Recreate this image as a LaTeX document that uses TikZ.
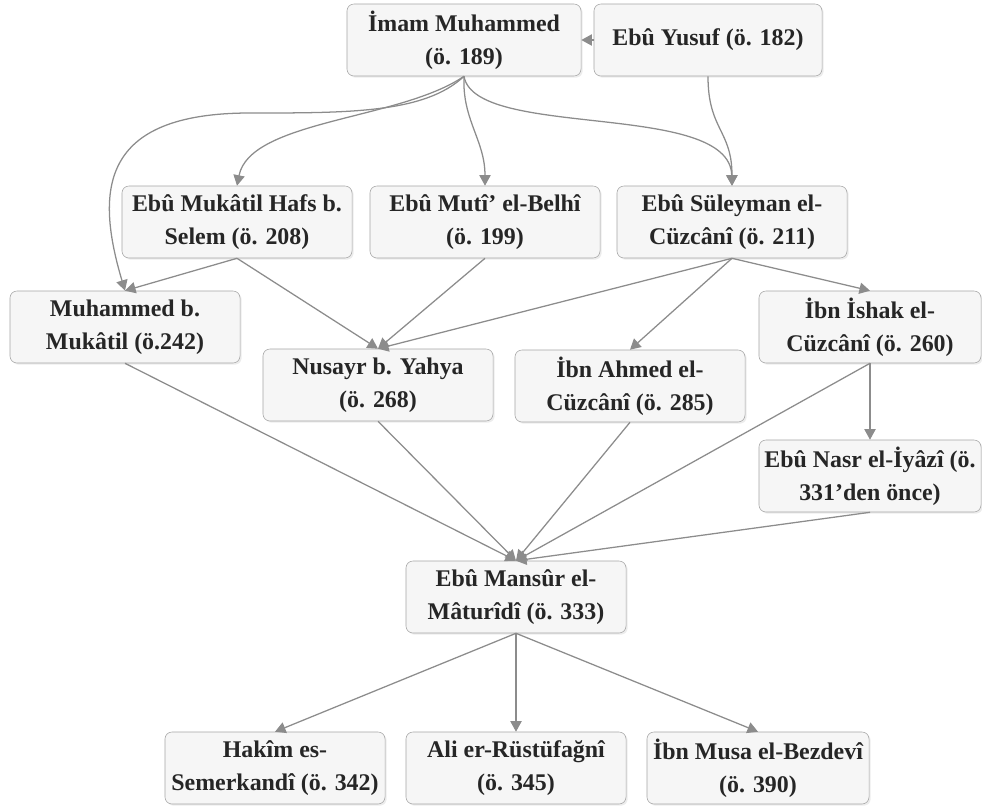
\documentclass[tikz,border=0pt]{standalone}
\usepackage{fontspec}
\setmainfont{Liberation Serif}
\usepackage{tikz}
\usetikzlibrary{arrows.meta,shadows}
\definecolor{kutucizgi}{HTML}{A6A6A6}
\definecolor{kutudolgu}{HTML}{F6F6F6}
\definecolor{oksrengi}{HTML}{8C8C8C}

\begin{document}
\begin{tikzpicture}[x=0.025cm, y=-0.025cm,
  kisi/.style={draw=kutucizgi, fill=kutudolgu, rounded corners=5pt, align=center,
    minimum width=5.75cm, minimum height=1.8cm, inner sep=2pt, text=black!85,
    font=\bfseries\fontsize{17}{23.5}\selectfont,
    drop shadow={shadow xshift=1.2pt, shadow yshift=-1.2pt, opacity=0.15}},
  ok/.style={color=oksrengi, line width=0.9pt, -{Triangle[length=7.5pt,width=8pt]}}]
  \useasboundingbox (0,0) rectangle (982,810);

  \node[kisi, minimum width=5.85cm] (imam)     at (464,40)  {İmam Muhammed\\(ö. 189)};
  \node[kisi, minimum width=5.7cm]  (yusuf)    at (708,40)  {Ebû Yusuf (ö. 182)};
  \node[kisi] (mukatil)  at (237,222) {Ebû Mukâtil Hafs b.\\Selem (ö. 208)};
  \node[kisi] (muti)     at (485,222) {Ebû Mutî' el-Belhî\\(ö. 199)};
  \node[kisi] (suleyman) at (732,222) {Ebû Süleyman el-\\Cüzcânî (ö. 211)};
  \node[kisi] (mbm)      at (125,327) {Muhammed b.\\Mukâtil (ö.242)};
  \node[kisi] (nusayr)   at (378,385) {Nusayr b. Yahya\\(ö. 268)};
  \node[kisi] (ahmed)    at (630,386) {İbn Ahmed el-\\Cüzcânî (ö. 285)};
  \node[kisi, minimum width=5.55cm] (ishak) at (870,327) {İbn İshak el-\\Cüzcânî (ö. 260)};
  \node[kisi, minimum width=5.55cm] (nasr)  at (870,476) {Ebû Nasr el-İyâzî (ö.\\331'den önce)};
  \node[kisi, minimum width=5.5cm] (maturidi) at (516,597) {Ebû Mansûr el-\\Mâturîdî (ö. 333)};
  \node[kisi, minimum width=5.5cm] (hakim)    at (275,768) {Hakîm es-\\Semerkandî (ö. 342)};
  \node[kisi, minimum width=5.5cm] (ali)      at (516,768) {Ali er-Rüstüfağnî\\(ö. 345)};
  \node[kisi, minimum width=5.55cm] (musa)    at (758,768) {İbn Musa el-Bezdevî\\(ö. 390)};

  % egri baglantilar
  \draw[ok] (imam.south) .. controls (425,113) and (350,113) .. (250,113)
    .. controls (100,113) and (95,190) .. (mbm.north);
  \draw[ok] (imam.south) .. controls (400,120) and (250,120) .. (mukatil.north);
  \draw[ok] (imam.south) .. controls (462,120) and (485,140) .. (muti.north);
  \draw[ok] (imam.south) .. controls (475,140) and (730,100) .. (suleyman.north);
  \draw[ok] (yusuf.south) .. controls (708,130) and (732,130) .. (suleyman.north);

  % duz baglantilar
  \path[ok]
    (yusuf) edge (imam)
    (mukatil.south) edge (mbm.north)
    (mukatil.south) edge (nusayr.north)
    (muti.south) edge (nusayr.north)
    (suleyman.south) edge (nusayr.north)
    (suleyman.south) edge (ahmed.north)
    (suleyman.south) edge (ishak.north)
    (ishak.south) edge (nasr.north)
  ;
  \path[ok]
    (mbm.south) edge (maturidi.north)
    (nusayr.south) edge (maturidi.north)
    (ahmed.south) edge (maturidi.north)
    (ishak.south) edge (maturidi.north)
    (nasr.south) edge (maturidi.north)
  ;
  \path[ok]
    (maturidi.south) edge (hakim.north)
    (maturidi.south) edge (ali.north)
    (maturidi.south) edge (musa.north)
  ;
\end{tikzpicture}
\end{document}
